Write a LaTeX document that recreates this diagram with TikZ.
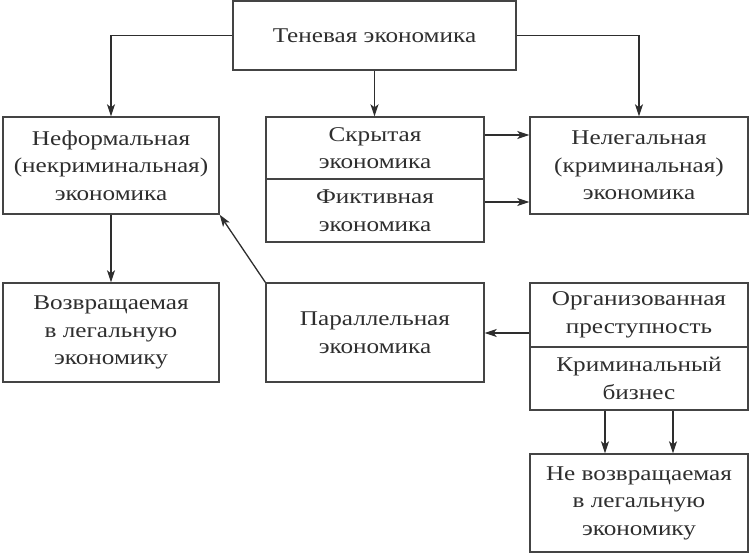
\documentclass[tikz,border=0pt]{standalone}
\usepackage{fontspec}
\setmainfont{Liberation Serif}[FakeStretch=1.2]
\usetikzlibrary{arrows.meta}
\definecolor{ink}{HTML}{2E2E2E}
\definecolor{edge}{HTML}{444444}
\tikzset{
  box/.style={draw=edge, line width=1.4pt, text=ink, align=center, inner sep=0pt,
    font=\fontsize{21}{27.5}\selectfont},
  arr/.style={draw=ink, line width=1.3pt, -{Stealth[length=12pt,width=8pt,inset=3pt]}}
}
\begin{document}
\begin{tikzpicture}[x=1pt,y=-1pt]
\useasboundingbox (0,0) rectangle (750,554);
\node[box, minimum width=283pt, minimum height=69pt] (T) at (374.5,35.5) {Теневая экономика};
\node[box, minimum width=216pt, minimum height=97pt] (N) at (111,165.5) {Неформальная\\(некриминальная)\\экономика};
\node[box, minimum width=218pt, minimum height=62pt] (S1) at (375,148) {Скрытая\\экономика};
\node[box, minimum width=218pt, minimum height=63pt] (S2) at (375,210.5) {Фиктивная\\экономика};
\node[box, minimum width=218pt, minimum height=97pt] (L) at (639,165.5) {Нелегальная\\(криминальная)\\экономика};
\node[box, minimum width=216pt, minimum height=99pt] (V) at (111,332.5) {Возвращаемая\\в легальную\\экономику};
\node[box, minimum width=218pt, minimum height=99pt] (P) at (375,332.5) {Параллельная\\экономика};
\node[box, minimum width=218pt, minimum height=64pt] (O1) at (639,315) {Организованная\\преступность};
\node[box, minimum width=218pt, minimum height=63pt] (O2) at (639,378.5) {Криминальный\\бизнес};
\node[box, minimum width=218pt, minimum height=98pt] (NV) at (639,503) {Не возвращаемая\\в легальную\\экономику};

\draw[arr] (T.west) -| (N.north);
\draw[arr] (T.east) -| (L.north);
\draw[arr] (T.south) -- (T.south |- S1.north);
\draw[arr] (S1.east |- 0,135) -- (L.west |- 0,135);
\draw[arr] (S2.east |- 0,202) -- (L.west |- 0,202);
\draw[arr] (N.south) -- (V.north);
\draw[arr] (P.north west) -- (N.south east);
\draw[arr] (O1.west |- 0,333) -- (P.east |- 0,333);
\draw[arr] (O2.south -| 605,0) -- (NV.north -| 605,0);
\draw[arr] (O2.south -| 673,0) -- (NV.north -| 673,0);
\end{tikzpicture}
\end{document}
